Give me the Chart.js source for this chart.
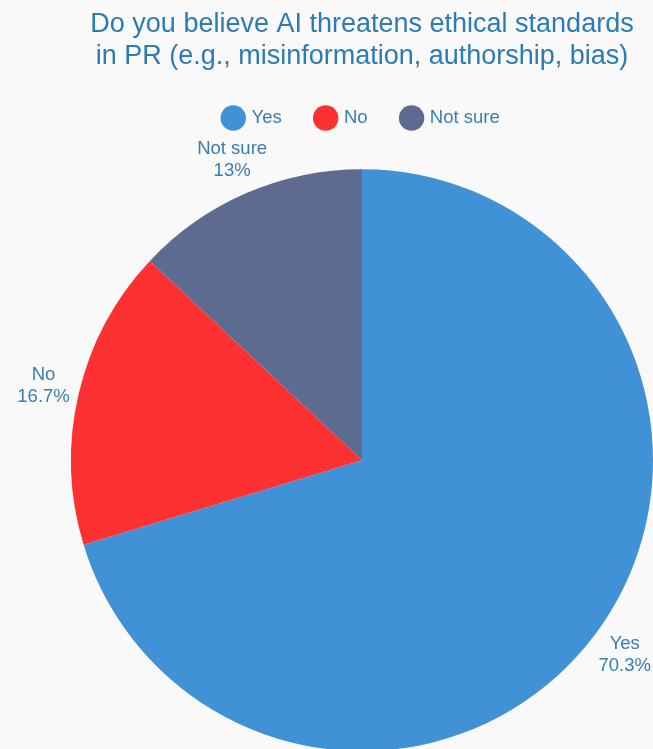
<!DOCTYPE html>
<html>
<head>
<meta charset="utf-8">
<script src="https://cdn.jsdelivr.net/npm/chart.js@4"></script>
<style>
    html, body { margin: 0; padding: 0; background: #f9f9f9; overflow: hidden; }
    #wrap { position: relative; width: 653px; height: 783px; }
</style>
</head>
<body>
<div id="wrap"><canvas id="ethics"></canvas></div>
<script>
const answers = ['Yes', 'No', 'Not sure'];   // categories
const shares = [70.3, 16.7, 13];             // percent of respondents
const sliceColors = ['#4091d6', '#fd3131', '#5e6b91'];
const titleLines = ['Do you believe AI threatens ethical standards', 'in PR (e.g., misinformation, authorship, bias)'];

const textBlue = '#2d7bb4';
const fontFamily = '"Liberation Sans", Arial, sans-serif';

// draw "label / value%" outside each slice, at its middle angle
const outsideLabels = {
    id: 'outsideLabels',
    afterDatasetsDraw(chart) {
        const ctx = chart.ctx;
        const meta = chart.getDatasetMeta(0);
        ctx.save();
        ctx.font = '18.5px ' + fontFamily;
        ctx.fillStyle = '#3a7db2';
        ctx.textAlign = 'center';
        ctx.textBaseline = 'middle';
        meta.data.forEach((arc, i) => {
            const p = arc.getProps(['x', 'y', 'startAngle', 'endAngle', 'outerRadius'], true);
            const mid = (p.startAngle + p.endAngle) / 2;
            const d = p.outerRadius + 36;
            const x = p.x + Math.cos(mid) * d;
            const y = p.y + Math.sin(mid) * d;
            ctx.fillText(chart.data.labels[i], x, y - 11);
            ctx.fillText(shares[i] + '%', x, y + 11);
        });
        ctx.restore();
    }
};

const ctx = document.getElementById('ethics').getContext('2d');
const myChart = new Chart(ctx, {
    type: 'pie',
    data: {
        labels: answers,
        datasets: [{
            data: shares,
            backgroundColor: sliceColors,
            borderWidth: 0
        }]
    },
    options: {
        responsive: true,
        maintainAspectRatio: false,
        animation: false,
        layout: {
            padding: { left: 71, right: 0, top: 0, bottom: 0 }
        },
        plugins: {
            title: {
                display: true,
                text: titleLines,
                color: textBlue,
                font: { family: fontFamily, size: 27, weight: 'normal', lineHeight: 1.2 },
                padding: { top: 8, bottom: 1 }
            },
            legend: {
                position: 'top',
                labels: {
                    usePointStyle: true,
                    pointStyle: 'circle',
                    boxWidth: 18,
                    boxHeight: 18,
                    padding: 35,
                    color: '#3a7db2',
                    font: { family: fontFamily, size: 18.5 }
                }
            },
            tooltip: { enabled: false }
        }
    },
    plugins: [outsideLabels]
});
</script>
</body>
</html>
